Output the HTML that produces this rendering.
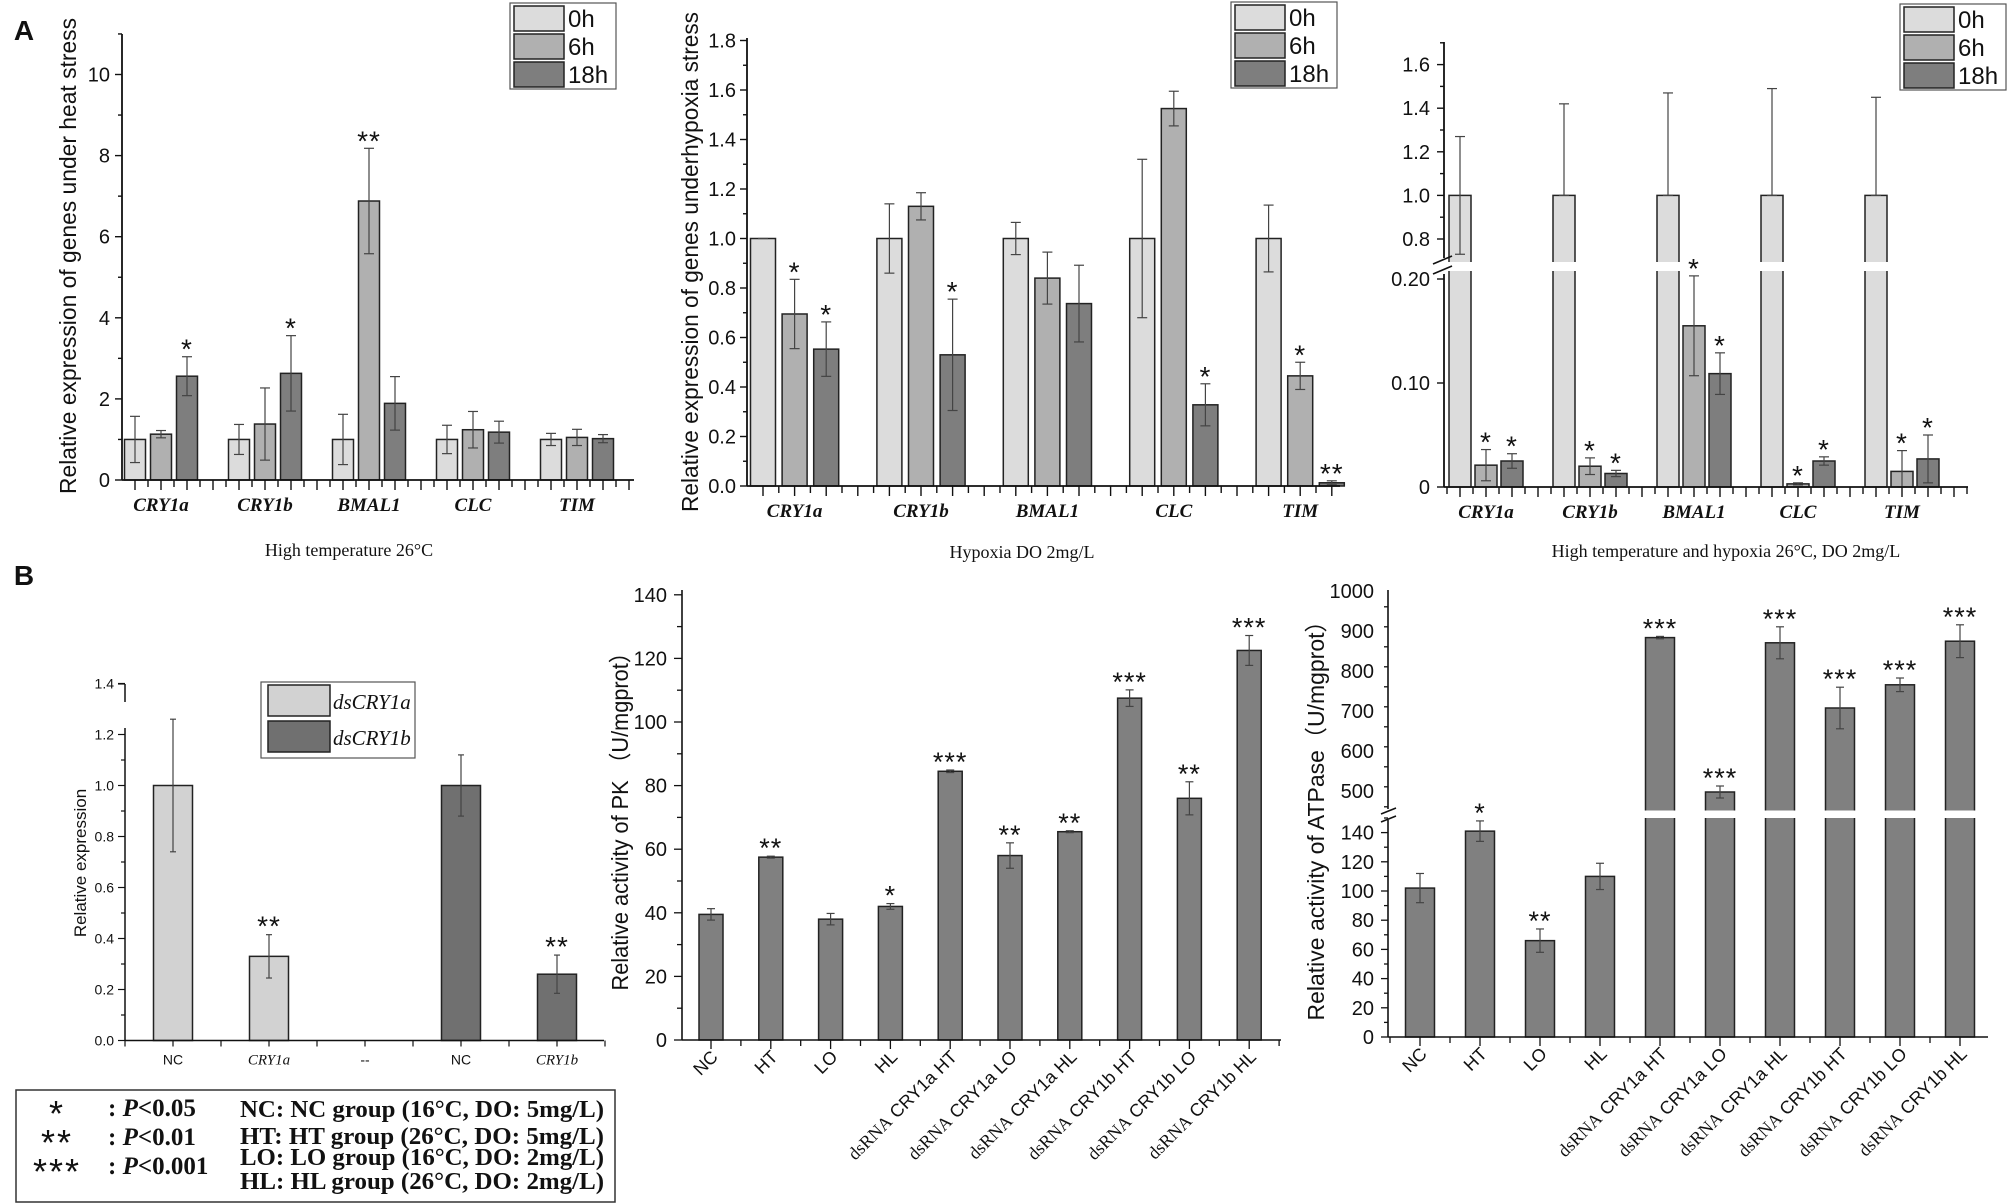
<!DOCTYPE html>
<html><head><meta charset="utf-8"><title>Figure</title>
<style>
html,body{margin:0;padding:0;background:#fff;}
svg{display:block;}
.sans{font-family:"Liberation Sans",Arial,sans-serif;}
.serif{font-family:"Liberation Serif","Times New Roman",serif;}
</style></head>
<body>
<svg id="fig" width="2008" height="1204" viewBox="0 0 2008 1204" xmlns="http://www.w3.org/2000/svg"></svg>
<script>
// ---------- Panel A data ----------
const genes = ["CRY1a","CRY1b","BMAL1","CLC","TIM"];
const timeLabels = ["0h","6h","18h"];
const a1Values0h = [1,1,1,1,1];
const a1Values6h = [1.13,1.38,6.88,1.24,1.05];
const a1Values18h = [2.56,2.63,1.89,1.18,1.02];
const a1Err0h = [0.57,0.37,0.62,0.35,0.15];
const a1Err6h = [0.09,0.89,1.3,0.45,0.2];
const a1Err18h = [0.48,0.93,0.66,0.27,0.1];
const a1Sig6h = ["","","**","",""];
const a1Sig18h = ["*","*","","",""];
const a1Ticks = [0,2,4,6,8,10];

const a2Values0h = [1,1,1,1,1];
const a2Values6h = [0.695,1.13,0.84,1.525,0.445];
const a2Values18h = [0.553,0.53,0.737,0.328,0.013];
const a2Err0h = [0,0.14,0.065,0.32,0.135];
const a2Err6h = [0.14,0.055,0.105,0.07,0.055];
const a2Err18h = [0.11,0.225,0.155,0.085,0.008];
const a2Sig6h = ["*","","","","*"];
const a2Sig18h = ["*","*","","*","**"];
const a2Ticks = ["0.0","0.2","0.4","0.6","0.8","1.0","1.2","1.4","1.6","1.8"];

const a3Values0h = [1,1,1,1,1];
const a3Values6h = [0.021,0.02,0.155,0.003,0.015];
const a3Values18h = [0.025,0.013,0.109,0.025,0.027];
const a3Err0h = [0.27,0.42,0.47,0.49,0.45];
const a3Err6h = [0.015,0.008,0.048,0.001,0.02];
const a3Err18h = [0.007,0.003,0.02,0.004,0.023];
const a3Sig6h = ["*","*","*","*","*"];
const a3Sig18h = ["*","*","*","*","*"];
const a3TicksLow = ["0","0.10","0.20"];
const a3TicksHigh = ["0.8","1.0","1.2","1.4","1.6"];

// ---------- Panel B data ----------
const b1Cats = ["NC","CRY1a","--","NC","CRY1b"];
const b1Values = [1.0,0.33,null,1.0,0.26];
const b1Err = [0.26,0.085,null,0.12,0.075];
const b1Series = ["a","a","","b","b"];
const b1Sig = ["","**","","","**"];
const b1Ticks = ["0.0","0.2","0.4","0.6","0.8","1.0","1.2","1.4"];

const bCats = ["NC","HT","LO","HL","dsRNA CRY1a HT","dsRNA CRY1a LO","dsRNA CRY1a HL","dsRNA CRY1b HT","dsRNA CRY1b LO","dsRNA CRY1b HL"];
const pkValues = [39.5,57.5,38,42,84.5,58,65.5,107.5,76,122.5];
const pkErr = [1.8,0.3,1.8,0.9,0.4,4,0.3,2.6,5.2,4.7];
const pkSig = ["","**","","*","***","**","**","***","**","***"];
const pkTicks = [0,20,40,60,80,100,120,140];

const atpValues = [102,141,66,110,883,497,870,707,765,874];
const atpErr = [10,7,8,9,3,15,40,52,17,41];
const atpSig = ["","*","**","","***","***","***","***","***","***"];
const atpTicksLow = [0,20,40,60,80,100,120,140];
const atpTicksHigh = [500,600,700,800,900,1000];

const C0 = "#dcdcdc", C6 = "#b0b0b0", C18 = "#7e7e7e", CB = "#808080";
const svg = document.getElementById("fig");
const NS = "http://www.w3.org/2000/svg";
function mk(tag, parent){ const e = document.createElementNS(NS, tag); (parent||svg).appendChild(e); return e; }
function set(e, o){ for (const k in o) e.setAttribute(k, o[k]); return e; }
function grp(name){ const g = mk("g");   return g; }
function line(p, x1,y1,x2,y2,w,col){ const l = mk("line",p); set(l,{x1:x1,y1:y1,x2:x2,y2:y2,stroke:col||"#111","stroke-width":w||1.6}); return l; }
function text(p, x,y,s,size,cls,anchor,extra){ const t = mk("text",p); set(t,{x:x,y:y,"font-size":size,"text-anchor":anchor||"middle",fill:"#111"}); t.setAttribute("class",cls||"sans"); if(extra) set(t,extra); t.textContent=s; return t; }

function bar(p, cx, w, yTop, yBase, fill, name){
  const r = mk("rect",p);
  set(r,{x:cx-w/2,y:Math.min(yTop,yBase),width:w,height:Math.abs(yBase-yTop),fill:fill,stroke:"#222","stroke-width":1.5});
  
  
  return r;
}
function errbar(p, cx, yHi, yLo, cap){
  const g = mk("g",p);
  
  
  line(g,cx,yHi,cx,yLo,1.2,"#444");
  line(g,cx-cap,yHi,cx+cap,yHi,1.2,"#444");
  line(g,cx-cap,yLo,cx+cap,yLo,1.2,"#444");
}
function star(p, cx, y, s, size){
  if(!s) return;
  const t = text(p,cx,y+6,s,size||28,"sans","middle",{"letter-spacing":"1"});
  
  
}
function legendA(x, y, name){
  const g = grp(name);
  const r = mk("rect",g); set(r,{x:x,y:y,width:106,height:86,fill:"#fff",stroke:"#555","stroke-width":1.2});
  const cols=[C0,C6,C18];
  for(let i=0;i<3;i++){
    const sw = mk("rect",g); set(sw,{x:x+4,y:y+3+i*28,width:50,height:25,fill:cols[i],stroke:"#222","stroke-width":1.5});
    
    
    const t = text(g,x+58,y+24+i*28,timeLabels[i],24,"sans","start");
    
    
  }
}

function panelA(name, x0, xEnd, yBase, first, pitch, groupPitch, bw, yFn, v0,v6,v18,e0,e6,e18,s6,s18, opts){
  const g = grp(name);
  const cols=[C0,C6,C18]; const vals=[v0,v6,v18]; const errs=[e0,e6,e18]; const sigs=[[],s6,s18];
  const pending=[];
  for(let gi=0;gi<genes.length;gi++){
    for(let s=0;s<3;s++){
      const cx = first + gi*groupPitch + s*pitch;
      const v = vals[s][gi];
      bar(g,cx,bw,yFn(v),yBase,cols[s],"bar-"+genes[gi]+"-"+timeLabels[s]);
      const e = errs[s][gi];
      const hi = yFn(v+e);
      let lo = yFn(Math.max(v-e,0));
      if (opts && opts.hideLowFor0h && s===0 && gi>0) lo = yFn(v);
      if (e>0) errbar(g,cx,hi,lo,5); else line(g,cx-5,yFn(v),cx+5,yFn(v),1.2,"#444");
      if (sigs[s] && sigs[s][gi]) pending.push([cx,hi-4,sigs[s][gi]]);
    }
    const lt = text(g, first+gi*groupPitch+pitch, yBase+31, genes[gi], 19, "serif", "middle", {"font-weight":"bold","font-style":"italic"});
    
    
  }
  if (opts && opts.band) opts.band(g);
  pending.forEach(p=>star(g,p[0],p[1],p[2],28));
  line(g,x0,yBase,xEnd,yBase,1.8);
  const step = pitch/2;
  for(let x=first-step*Math.round((first-x0)/step); x<=xEnd+0.5; x+=step){
    if (x < x0+2) continue;
    const rel = Math.round((x-first)/step);
    const major = rel%2===0;
    line(g,x,yBase,x,yBase+(major?10:7),1.4);
  }
  return g;
}

// ---------- A1 ----------
(function(){
  const yB=480, k=40.55;
  const yFn = v => yB - v*k;
  const g = panelA("chart-a1-heat", 122, 634, yB, 135, 26, 104, 21, yFn, a1Values0h,a1Values6h,a1Values18h,a1Err0h,a1Err6h,a1Err18h,a1Sig6h,a1Sig18h);
  line(g,122,34,122,yB,1.8);
  for(let v=0; v<=11; v++){ line(g,122,yFn(v),v%2===0?115:118,yFn(v),1.4); }
  a1Ticks.forEach(t=>{ const tx=text(g,110,yFn(t)+7,String(t),20,"sans","end");   });
  const yl = text(g,0,0,"Relative expression of genes under heat stress",23,"sans","middle",{transform:"translate(76,256) rotate(-90)",textLength:476,lengthAdjust:"spacingAndGlyphs"});
  
  
  const tt = text(g,349,556,"High temperature  26\u00b0C",18,"serif","middle");
  
  
  legendA(510,3,"legend-a1");
})();

// ---------- A2 ----------
(function(){
  const yB=486, k=247.5;
  const yFn = v => yB - v*k;
  const g = panelA("chart-a2-hypoxia", 747, 1340, yB, 763, 31.6, 126.4, 25, yFn, a2Values0h,a2Values6h,a2Values18h,a2Err0h,a2Err6h,a2Err18h,a2Sig6h,a2Sig18h);
  line(g,747,38,747,yB,1.8);
  for(let i=0;i<=18;i++){ line(g,747,yFn(i/10),i%2===0?740:743,yFn(i/10),1.4); }
  a2Ticks.forEach(t=>{ const tx=text(g,736,yFn(parseFloat(t))+7,t,20,"sans","end");   });
  const yl = text(g,0,0,"Relative expression of genes underhypoxia stress",23,"sans","middle",{transform:"translate(698,262) rotate(-90)",textLength:500,lengthAdjust:"spacingAndGlyphs"});
  
  
  const tt = text(g,1022,558,"Hypoxia DO 2mg/L",18,"serif","middle");
  
  
  legendA(1231,2,"legend-a2");
})();

// ---------- A3 (broken axis) ----------
(function(){
  const yB=487;
  const yFn = v => v<=0.3 ? yB - v*1040 : 239 - (v-0.8)*218;
  const g = panelA("chart-a3-heat-hypoxia", 1444, 1968, yB, 1460, 26, 104, 22, yFn, a3Values0h,a3Values6h,a3Values18h,a3Err0h,a3Err6h,a3Err18h,a3Sig6h,a3Sig18h,{hideLowFor0h:true, band:function(gg){
    const band = mk("rect",gg); set(band,{x:1445,y:262,width:522,height:9,fill:"#fff"});
    
    
  }});
  line(g,1444,42,1444,258,1.8);
  line(g,1444,274,1444,yB,1.8);
  line(g,1433,264,1452,256,1.6); line(g,1433,274,1452,266,1.6);
  for(let i=8;i<=17;i++){ const y = 239-(i/10-0.8)*218; line(g,1444,y,i%2===0?1437:1440,y,1.4); }
  line(g,1444,yFn(0.2),1437,yFn(0.2),1.4); line(g,1444,yFn(0.1),1437,yFn(0.1),1.4); line(g,1444,yB,1437,yB,1.4);
  a3TicksHigh.forEach(t=>{ const tx=text(g,1430,239-(parseFloat(t)-0.8)*218+7,t,20,"sans","end");   });
  a3TicksLow.forEach(t=>{ const tx=text(g,1430,yFn(parseFloat(t))+7,t,20,"sans","end");   });
  const tt = text(g,1726,557,"High temperature and hypoxia  26\u00b0C, DO 2mg/L",18,"serif","middle");
  
  
  legendA(1900,4,"legend-a3");
})();

(function(){
  const a = text(svg,24,40,"A",28,"sans","middle",{"font-weight":"bold"});
  
  
  const b = text(svg,24,585,"B",28,"sans","middle",{"font-weight":"bold"});
  
  
})();

// ---------- B1 ----------
(function(){
  const g = grp("chart-b1-knockdown");
  const yB=1040.5, k=255;
  const yFn = v => yB - v*k;
  const x0=125, first=173, pitch=96, bw=39;
  b1Cats.forEach((c,i)=>{
    const cx = first+i*pitch;
    if (b1Values[i]!==null){
      bar(g,cx,bw,yFn(b1Values[i]),yB,b1Series[i]==="a"?"#d2d2d2":"#707070","bar-"+c+"-"+b1Series[i]);
      errbar(g,cx,yFn(b1Values[i]+b1Err[i]),yFn(b1Values[i]-b1Err[i]),3);
      star(g,cx,yFn(b1Values[i]+b1Err[i])-5,b1Sig[i],28);
    }
    const italic = (c.indexOf("CRY")===0);
    const t = text(g,cx,yB+24,c,italic?15:14,italic?"serif":"sans","middle",italic?{"font-style":"italic"}:{});
    
    
  });
  line(g,x0,yB,604,yB,1.5);
  for(let i=0;i<=10;i++){ const x=x0+i*48; line(g,x,yB,x,yB+6,1.2); }
  line(g,x0,728,x0,yB,1.5);
  line(g,x0,684,x0,702,1.5);
  for(let i=0;i<=14;i++){ const y=yFn(i/10); if(y<726 && y>690) continue; line(g,x0,y,i%2===0?118:121,y,1.2); }
  line(g,118,684,125,684,1.2);
  b1Ticks.forEach(t=>{ const tx=text(g,114,yFn(parseFloat(t))+5,t,14,"sans","end");   });
  const yl = text(g,0,0,"Relative expression",17,"sans","middle",{transform:"translate(86,863) rotate(-90)"});
  
  
  const lg = grp("legend-b1");
  const r = mk("rect",lg); set(r,{x:261,y:682,width:154,height:76,fill:"#fff",stroke:"#555","stroke-width":1.2});
  const s1 = mk("rect",lg); set(s1,{x:268,y:685,width:62,height:31,fill:"#d2d2d2",stroke:"#222","stroke-width":1.5});
   
  const s2 = mk("rect",lg); set(s2,{x:268,y:721,width:62,height:31,fill:"#707070",stroke:"#222","stroke-width":1.5});
   
  const t1 = text(lg,333,709,"dsCRY1a",21,"serif","start",{"font-style":"italic"});
   
  const t2 = text(lg,333,745,"dsCRY1b",21,"serif","start",{"font-style":"italic"});
   
})();

// key box
(function(){
  const g = grp("significance-key");
  const r = mk("rect",g); set(r,{x:16,y:1090,width:599,height:112,fill:"#fff",stroke:"#333","stroke-width":1.5});
  const stars=["*","**","***"], ps=["0.05","0.01","0.001"], ys=[1116,1145,1174];
  for(let i=0;i<3;i++){
    const s = text(g,57,ys[i]+10,stars[i],36,"sans","middle",{"letter-spacing":"2"});
     
    const t = text(g,108,ys[i],"",25,"serif","start",{"font-weight":"bold"});
    t.innerHTML = ": <tspan font-style=\"italic\">P</tspan>&lt;"+ps[i];
     
  }
  const grps=["NC: NC group (16\u00b0C, DO: 5mg/L)","HT: HT group (26\u00b0C, DO: 5mg/L)","LO: LO group (16\u00b0C, DO: 2mg/L)","HL: HL group (26\u00b0C, DO: 2mg/L)"];
  const gy=[1117,1144,1165,1189];
  grps.forEach((s,i)=>{ const t=text(g,240,gy[i],s,24,"serif","start",{"font-weight":"bold",textLength:364,lengthAdjust:"spacingAndGlyphs"});   });
})();

function catLabel(g, cx, yB, s, i){
  const t = mk("text",g);
  set(t,{x:0,y:0,"font-size":18,"text-anchor":"end",fill:"#111",transform:"translate("+(cx+8)+","+(yB+18)+") rotate(-45)"});
  t.setAttribute("class","sans");
  if (s.indexOf("dsRNA")===0){
    t.innerHTML = '<tspan font-family="Liberation Serif, serif">dsRNA</tspan> '+s.slice(6);
  } else t.textContent = s;
  
  
}

// ---------- B2 PK ----------
(function(){
  const g = grp("chart-b2-pk");
  const yB=1040, k=63.6/20;
  const yFn = v => yB - v*k;
  const x0=682, first=711, pitch=59.8, bw=24;
  bCats.forEach((c,i)=>{
    const cx = first+i*pitch;
    bar(g,cx,bw,yFn(pkValues[i]),yB,CB,"bar-pk-"+i);
    errbar(g,cx,yFn(pkValues[i]+pkErr[i]),yFn(pkValues[i]-pkErr[i]),4);
    star(g,cx,yFn(pkValues[i]+pkErr[i])-5,pkSig[i],27);
    catLabel(g,cx,yB,c,i);
  });
  line(g,x0,yB,1281,yB,1.6);
  for(let i=0;i<=20;i++){ const xx = first - pitch/2 + i*pitch/2; if(xx>x0 && xx<1282) line(g,xx,yB,xx,yB+(i%2===1?9:6),1.3); }
  line(g,x0,590,x0,yB,1.6);
  for(let v=0; v<=140; v+=10){ line(g,x0,yFn(v),v%20===0?674:677,yFn(v),1.3); }
  pkTicks.forEach(t=>{ const tx=text(g,667,yFn(t)+7,String(t),20,"sans","end");   });
  const yl = text(g,0,0,"Relative activity of PK \uff08U/mgprot\uff09",23,"sans","middle",{transform:"translate(628,816) rotate(-90)",textLength:349,lengthAdjust:"spacingAndGlyphs"});
  
  
})();

// ---------- B3 ATPase (broken axis) ----------
(function(){
  const g = grp("chart-b3-atpase");
  const yB=1037;
  const yFn = v => v<=300 ? yB - v*1.46 : 790.8 - (v-500)*0.4;
  const x0=1388, first=1420, pitch=60, bw=29;
  const pend=[];
  bCats.forEach((c,i)=>{
    const cx = first+i*pitch;
    bar(g,cx,bw,yFn(atpValues[i]),yB,CB,"bar-atpase-"+i);
    errbar(g,cx,yFn(atpValues[i]+atpErr[i]),yFn(atpValues[i]-atpErr[i]),4);
    pend.push([cx,yFn(atpValues[i]+atpErr[i])-5,atpSig[i]]);
    catLabel(g,cx,yB,c,i);
  });
  const band = mk("rect",g); set(band,{x:x0+1,y:810.5,width:600,height:7.5,fill:"#fff"});
  
  
  pend.forEach(p=>star(g,p[0],p[1],p[2],27));
  line(g,x0,yB,1988,yB,1.6);
  for(let i=0;i<=20;i++){ const xx = first - pitch/2 + i*pitch/2; if(xx>x0 && xx<1989) line(g,xx,yB,xx,yB+(i%2===1?9:6),1.3); }
  line(g,x0,590,x0,809,1.6);
  line(g,x0,820,x0,yB,1.6);
  line(g,x0-7,814,x0+8,808,1.5); line(g,x0-7,822,x0+8,816,1.5);
  for(let v=0; v<=150; v+=10){ line(g,x0,yFn(v),v%20===0?1381:1384,yFn(v),1.3); }
  for(let v=460; v<=1000; v+=50){ line(g,x0,yFn(v),v%100===0?1381:1384,yFn(v),1.3); }
  atpTicksLow.forEach(t=>{ const tx=text(g,1374,yFn(t)+7,String(t),20,"sans","end");   });
  atpTicksHigh.forEach(t=>{ const tx=text(g,1374,yFn(t)+7,String(t),20,"sans","end");   });
  const yl = text(g,0,0,"Relative activity of ATPase\uff08U/mgprot\uff09",23,"sans","middle",{transform:"translate(1324,815) rotate(-90)",textLength:411,lengthAdjust:"spacingAndGlyphs"});
  
  
})();
</script>
</body></html>
